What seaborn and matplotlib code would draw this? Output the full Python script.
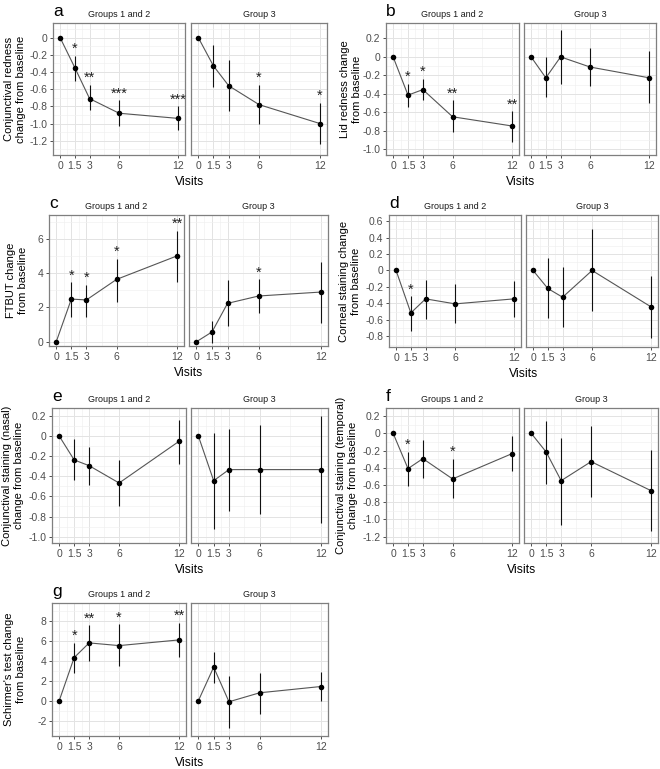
import numpy as np
import pandas as pd
import matplotlib
matplotlib.use('Agg')
import matplotlib.pyplot as plt
import seaborn as sns
from matplotlib.ticker import FixedLocator

sns.set_style('whitegrid')
plt.rcParams['font.family'] = ['Liberation Sans', 'DejaVu Sans']

nan = np.nan

# Shared categories
visits = [0, 1.5, 3, 6, 12]
visit_labels = ['0', '1.5', '3', '6', '12']
groups = ['Groups 1 and 2', 'Group 3']

# a - conjunctival redness
a_mean_12 = [0, -0.35, -0.71, -0.88, -0.94]
a_lo_12 = [nan, -0.50, -0.84, -1.03, -1.08]
a_hi_12 = [nan, -0.21, -0.55, -0.73, -0.80]
a_star_12 = ['', '*', '**', '***', '***']
a_mean_3 = [0, -0.33, -0.56, -0.78, -1.00]
a_lo_3 = [nan, -0.57, -0.85, -1.00, -1.24]
a_hi_3 = [nan, -0.09, -0.26, -0.55, -0.76]
a_star_3 = ['', '', '', '*', '*']

# b - lid redness
b_mean_12 = [0, -0.415, -0.355, -0.65, -0.75]
b_lo_12 = [nan, -0.54, -0.47, -0.82, -0.92]
b_hi_12 = [nan, -0.29, -0.235, -0.47, -0.59]
b_star_12 = ['', '*', '*', '**', '**']
b_mean_3 = [0, -0.227, 0, -0.11, -0.227]
b_lo_3 = [nan, -0.44, -0.29, -0.32, -0.505]
b_hi_3 = [nan, 0.0, 0.295, 0.097, 0.06]
b_star_3 = ['', '', '', '', '']

# c - FTBUT
c_mean_12 = [0, 2.49, 2.44, 3.64, 5.01]
c_lo_12 = [nan, 1.46, 1.46, 2.34, 3.51]
c_hi_12 = [nan, 3.47, 3.31, 4.83, 6.47]
c_star_12 = ['', '*', '*', '*', '**']
c_mean_3 = [0, 0.57, 2.24, 2.67, 2.90]
c_lo_3 = [nan, -0.10, 0.92, 1.66, 1.11]
c_hi_3 = [nan, 1.21, 3.60, 3.64, 4.68]
c_star_3 = ['', '', '', '*', '']

# d - corneal staining
d_mean_12 = [0, -0.516, -0.345, -0.406, -0.345]
d_lo_12 = [nan, -0.735, -0.585, -0.638, -0.564]
d_hi_12 = [nan, -0.313, -0.11, -0.166, -0.126]
d_star_12 = ['', '*', '', '', '']
d_mean_3 = [0, -0.219, -0.325, 0, -0.443]
d_lo_3 = [nan, -0.577, -0.686, -0.49, -0.816]
d_hi_3 = [nan, 0.146, 0.037, 0.5, -0.069]
d_star_3 = ['', '', '', '', '']

# e - conjunctival staining (nasal)
e_mean_12 = [0, -0.238, -0.295, -0.467, -0.053]
e_lo_12 = [nan, -0.44, -0.483, -0.699, -0.275]
e_hi_12 = [nan, -0.03, -0.109, -0.235, 0.162]
e_star_12 = ['', '', '', '', '']
e_mean_3 = [0, -0.444, -0.334, -0.334, -0.334]
e_lo_3 = [nan, -0.92, -0.742, -0.775, -0.864]
e_hi_3 = [nan, 0.03, 0.07, 0.113, 0.195]
e_star_3 = ['', '', '', '', '']

# f - conjunctival staining (temporal)
f_mean_12 = [0, -0.41, -0.294, -0.53, -0.236]
f_lo_12 = [nan, -0.612, -0.519, -0.755, -0.437]
f_hi_12 = [nan, -0.217, -0.074, -0.294, -0.035]
f_star_12 = ['', '*', '', '*', '']
f_mean_3 = [0, -0.217, -0.55, -0.329, -0.666]
f_lo_3 = [nan, -0.588, -1.061, -0.739, -1.138]
f_hi_3 = [nan, 0.139, -0.054, 0.081, -0.197]
f_star_3 = ['', '', '', '', '']

# g - Schirmer's test
g_mean_12 = [0, 4.33, 5.8, 5.53, 6.1]
g_lo_12 = [nan, 2.8, 3.97, 3.47, 4.4]
g_hi_12 = [nan, 5.83, 7.57, 7.67, 7.83]
g_star_12 = ['', '*', '**', '*', '**']
g_mean_3 = [0, 3.37, -0.1, 0.8, 1.43]
g_lo_3 = [nan, 1.83, -2.77, -1.33, 0.0]
g_hi_3 = [nan, 4.9, 2.5, 2.83, 2.9]
g_star_3 = ['', '', '', '', '']

# y axis titles and ticks
ytitles = {
    'a': 'Conjunctival redness\nchange from baseline',
    'b': 'Lid redness change\nfrom baseline',
    'c': 'FTBUT change\nfrom baseline',
    'd': 'Corneal staining change\nfrom baseline',
    'e': 'Conjunctival staining (nasal)\nchange from baseline',
    'f': 'Conjunctival staining (temporal)\nchange from baseline',
    'g': "Schirmer's test change\nfrom baseline",
}
yticks = {
    'a': [0, -0.2, -0.4, -0.6, -0.8, -1.0, -1.2],
    'b': [0.2, 0, -0.2, -0.4, -0.6, -0.8, -1.0],
    'c': [0, 2, 4, 6],
    'd': [0.6, 0.4, 0.2, 0, -0.2, -0.4, -0.6, -0.8],
    'e': [0.2, 0, -0.2, -0.4, -0.6, -0.8, -1.0],
    'f': [0.2, 0, -0.2, -0.4, -0.6, -0.8, -1.0, -1.2],
    'g': [8, 6, 4, 2, 0, -2],
}

series = {
    'a': (a_mean_12, a_lo_12, a_hi_12, a_star_12, a_mean_3, a_lo_3, a_hi_3, a_star_3),
    'b': (b_mean_12, b_lo_12, b_hi_12, b_star_12, b_mean_3, b_lo_3, b_hi_3, b_star_3),
    'c': (c_mean_12, c_lo_12, c_hi_12, c_star_12, c_mean_3, c_lo_3, c_hi_3, c_star_3),
    'd': (d_mean_12, d_lo_12, d_hi_12, d_star_12, d_mean_3, d_lo_3, d_hi_3, d_star_3),
    'e': (e_mean_12, e_lo_12, e_hi_12, e_star_12, e_mean_3, e_lo_3, e_hi_3, e_star_3),
    'f': (f_mean_12, f_lo_12, f_hi_12, f_star_12, f_mean_3, f_lo_3, f_hi_3, f_star_3),
    'g': (g_mean_12, g_lo_12, g_hi_12, g_star_12, g_mean_3, g_lo_3, g_hi_3, g_star_3),
}

# layout in pixels: left facet x, right facet x, top, bottom, ylim, y-title x
layout = {
    'a': ((53, 185), (191, 327), 23, 155, (-1.366, 0.17), 15),
    'b': ((386, 519), (524, 656), 23, 155, (-1.065, 0.368), 351),
    'c': ((49, 184), (189, 328), 215, 346, (-0.25, 7.40), 17),
    'd': ((389, 521), (526, 658), 215, 347, (-0.93, 0.674), 350),
    'e': ((52, 186), (191, 328), 408, 543, (-1.063, 0.278), 13),
    'f': ((386, 519), (524, 658), 408, 543, (-1.274, 0.294), 347),
    'g': ((52, 186), (191, 328), 603, 736, (-3.53, 9.8), 15),
}

W, H = 660, 769
fig = plt.figure(figsize=(W / 100, H / 100), dpi=100)


def fx(x):
    return x / W


def fy(y):
    return 1 - y / H


def fmt(v, ints):
    if v == 0:
        return '0'
    return str(int(v)) if ints else f'{v:.1f}'


def midpoints(ticks, lo, hi):
    t = sorted(ticks)
    step = t[1] - t[0]
    out = []
    v = t[0] - step / 2
    while v > lo:
        v -= step
    while v < hi:
        out.append(v)
        v += step
    return out


xminor = [0.75, 2.25, 4.5, 9]

for key, (xl, xr, top, bot, ylim, ytx) in layout.items():
    s = series[key]
    ticks = yticks[key]
    ints = all(float(t).is_integer() for t in ticks)
    for gi, (x0, x1) in enumerate([xl, xr]):
        mean, lo, hi, star = s[gi * 4:gi * 4 + 4]
        df = pd.DataFrame({'visit': visits, 'mean': mean, 'lo': lo, 'hi': hi, 'star': star})
        ax = fig.add_axes([fx(x0), fy(bot), fx(x1 - x0), (bot - top) / H])
        ax.set_facecolor('white')
        sns.lineplot(data=df, x='visit', y='mean', color='#555555', linewidth=0.8,
                     errorbar=None, ax=ax, zorder=2)
        eb = df.dropna(subset=['lo'])
        ax.vlines(eb['visit'], eb['lo'], eb['hi'], color='#111111', linewidth=0.8, zorder=3)
        sns.scatterplot(data=df, x='visit', y='mean', color='black', s=16,
                        edgecolor='black', linewidth=0, ax=ax, zorder=4)
        for _, r in df.iterrows():
            if r['star']:
                ax.annotate(r['star'], (r['visit'], r['hi']), xytext=(0, 2),
                            textcoords='offset points', ha='center', va='baseline',
                            fontsize=10.5, color='#222222', zorder=5,
                            annotation_clip=False)
        ax.set_xlim(-0.72, 12.7)
        ax.set_ylim(*ylim)
        ax.set_xticks(visits)
        ax.set_xticklabels(visit_labels)
        ax.xaxis.set_minor_locator(FixedLocator(xminor))
        ax.set_yticks(ticks)
        ax.yaxis.set_minor_locator(FixedLocator(midpoints(ticks, ylim[0], ylim[1])))
        if gi == 0:
            ax.set_yticklabels([fmt(t, ints) for t in ticks])
            ax.tick_params(axis='y', which='major', left=True, length=2.5, width=0.6,
                           color='#333333', labelsize=7.5, labelcolor='#4D4D4D', pad=1.5)
        else:
            ax.tick_params(axis='y', which='major', left=False, labelleft=False)
        ax.tick_params(axis='x', which='major', bottom=True, length=2.5, width=0.6,
                       color='#333333', labelsize=7.5, labelcolor='#4D4D4D', pad=1.5)
        ax.tick_params(which='minor', length=0)
        ax.grid(which='major', color='#E3E3E3', linewidth=0.7)
        ax.grid(which='minor', color='#F0F0F0', linewidth=0.45)
        ax.set_axisbelow(True)
        for sp in ax.spines.values():
            sp.set_visible(True)
            sp.set_color('#7F7F7F')
            sp.set_linewidth(0.9)
        ax.set_xlabel('')
        ax.set_ylabel('')
        # strip title
        fig.text(fx((x0 + x1) / 2), fy(top - 6), groups[gi], ha='center', va='baseline',
                 fontsize=6.5, color='#1A1A1A')
    # panel letter
    fig.text(fx(xl[0]), fy(top - 7), key, ha='left', va='baseline', fontsize=12.5, color='black')
    # axis titles
    fig.text(fx((xl[0] + xr[1]) / 2), fy(bot + 27), 'Visits', ha='center', va='center',
             fontsize=8.8, color='black')
    fig.text(fx(ytx), fy((top + bot) / 2), ytitles[key], ha='center', va='center',
             rotation=90, fontsize=8, linespacing=1.15, color='black')

fig.savefig('out.png', dpi=100, facecolor='white')
